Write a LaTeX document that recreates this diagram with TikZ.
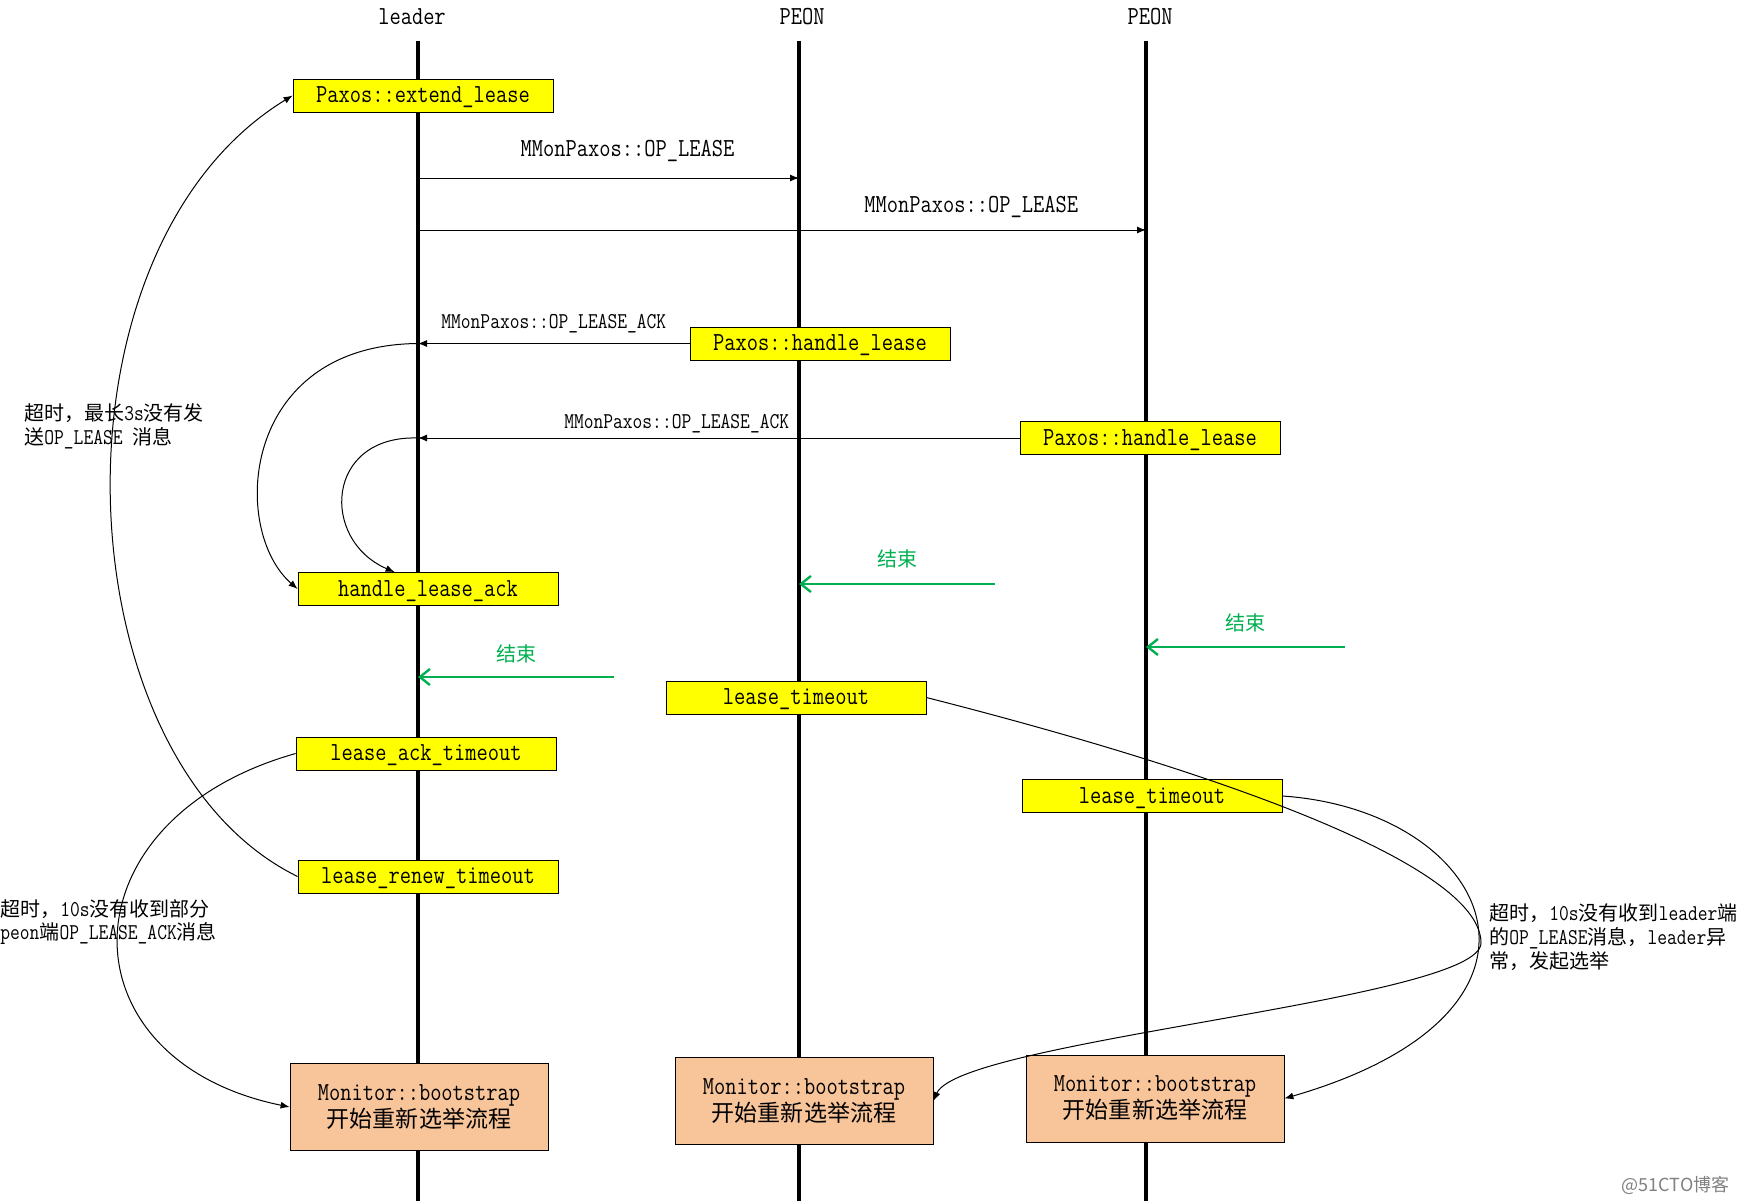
\documentclass[tikz,border=0pt]{standalone}
\usepackage{fontspec}
\setmainfont[FakeStretch=0.84]{Latin Modern Mono}
\newfontfamily\cjk[Scale=0.885]{Noto Sans CJK SC}
\newfontfamily\wmfont{Noto Sans CJK SC}
\usepackage{tikz}
\usetikzlibrary{arrows.meta, positioning, calc}
\definecolor{fnyellow}{RGB}{255,255,0}
\definecolor{bootorange}{RGB}{248,196,154}
\definecolor{donegreen}{RGB}{0,176,80}

\begin{document}
\begin{tikzpicture}[
  x=0.5pt, y=-0.5pt,
  fn/.style={draw, fill=fnyellow, minimum width=130pt, minimum height=16.5pt, inner sep=0pt, text height=7.5pt, text depth=0.5pt, font=\fontsize{13}{14}\selectfont},
  boot/.style={draw, fill=bootorange, minimum width=129pt, minimum height=43.5pt, inner sep=0pt, align=center, font=\fontsize{13}{13.5}\selectfont},
  lbl/.style={inner sep=0pt, font=\fontsize{13}{14}\selectfont},
  acklbl/.style={inner sep=0pt, font=\fontsize{11.3}{12}\selectfont},
  note/.style={align=left, anchor=west, inner sep=0pt, font=\fontsize{11.3}{11.7}\selectfont},
  life/.style={line width=1.7pt},
  msg/.style={-{Latex[length=4.5pt,width=3.5pt]}, line width=0.5pt},
  done/.style={-{Straight Barb[length=5pt,width=8pt]}, draw=donegreen, line width=1.2pt},
  donelbl/.style={inner sep=0pt, text=donegreen, font=\fontsize{11.3}{12}\selectfont\cjk}
]
\useasboundingbox (0,0) rectangle (1740,1204);

\node[lbl] (ldr) at (412,17) {leader};
\node[lbl] (peonA) at (802,17) {PEON};
\node[lbl] (peonB) at (1150,17) {PEON};
\coordinate (ldrTop) at (418,41);  \coordinate (ldrBot) at (418,1201);
\coordinate (pATop) at (799,41);   \coordinate (pABot) at (799,1201);
\coordinate (pBTop) at (1146,41);  \coordinate (pBBot) at (1146,1201);
\draw[life] (ldrTop) -- (ldrBot);
\draw[life] (pATop) -- (pABot);
\draw[life] (pBTop) -- (pBBot);

\node[fn] (extend) at (423,95.5) {Paxos::extend\_lease};
\node[fn] (hlA) at (820,343.5) {Paxos::handle\_lease};
\node[fn] (hlB) at (1150,438) {Paxos::handle\_lease};
\node[fn] (hla) at (428,589) {handle\_lease\_ack};
\node[fn] (ltA) at (796,697.5) {lease\_timeout};
\node[fn] (lat) at (426,753.5) {lease\_ack\_timeout};
\node[fn] (ltB) at (1152,796) {lease\_timeout};
\node[fn] (lrt) at (428,876.5) {lease\_renew\_timeout};
\node[boot] (bsL) at (419,1107) {Monitor::bootstrap\\{\cjk 开始重新选举流程}};
\node[boot] (bsA) at (804,1101) {Monitor::bootstrap\\{\cjk 开始重新选举流程}};
\node[boot] (bsB) at (1155,1098.5) {Monitor::bootstrap\\{\cjk 开始重新选举流程}};

% lease messages
\coordinate (opA) at (418,178);
\coordinate (opB) at (418,230);
\draw[msg] (opA) -- node[pos=0.55, above=8pt, lbl] {MMonPaxos::OP\_LEASE} (opA -| pATop);
\draw[msg] (opB) -- node[pos=0.76, above=6pt, lbl] {MMonPaxos::OP\_LEASE} (opB -| pBTop);

% acks
\coordinate (ackA) at (hlA.west -| ldrTop);
\coordinate (ackB) at (hlB.west -| ldrTop);
\draw[msg] (hlA.west) -- node[midway, above=5pt, acklbl] {MMonPaxos::OP\_LEASE\_ACK} (ackA);
\draw[msg] (hlB.west) -- node[pos=0.57, above=2pt, acklbl] {MMonPaxos::OP\_LEASE\_ACK} (ackB);
\draw[msg] (ackA) .. controls (240,345) and (230,530) .. (hla.west);
\draw[msg] (ackB) .. controls (325,435) and (320,540) .. ($(hla.north west)+(97,0)$);

% end marks
\coordinate (endA) at (995,584);
\coordinate (endB) at (1345,647);
\coordinate (endL) at (614,677);
\draw[done] (endA) -- node[midway, above=7.5pt, donelbl] {结束} (endA -| pATop);
\draw[done] (endB) -- node[midway, above=7pt, donelbl] {结束} (endB -| pBTop);
\draw[done] (endL) -- node[midway, above=6.5pt, donelbl] {结束} (endL -| ldrTop);

% timeouts
\coordinate (turnA) at (1481,943);
\draw[msg] (lrt.west) .. controls (60,760) and (40,250) .. (extend.west);
\draw[msg] (lat.west) .. controls (60,820) and (60,1060) .. (bsL.west);
\draw[msg] (ltA.east) .. controls (1250,780) and (1481,870) .. (turnA)
  .. controls (1481,1000) and (960,1040) .. (bsA.east);
\draw[msg] (ltB.east) .. controls (1490,810) and (1590,1010) .. (bsB.east);

\node[note] (n1) at (24,426.5) {{\cjk 超时，最长}3s{\cjk 没有发}\\{\cjk 送}OP\_LEASE {\cjk 消息}};
\node[note] (n2) at (0,922) {{\cjk 超时，}10s{\cjk 没有收到部分}\\peon{\cjk 端}OP\_LEASE\_ACK{\cjk 消息}};
\node[note, font=\fontsize{11.3}{12}\selectfont] (n3) at (1489,937) {{\cjk 超时，}10s{\cjk 没有收到}leader{\cjk 端}\\{\cjk 的}OP\_LEASE{\cjk 消息，}leader{\cjk 异}\\{\cjk 常，发起选举}};

\node[anchor=east, inner sep=0pt, text=gray, font=\wmfont\fontsize{9}{9}\selectfont] (wm) at (1730,1185) {@51CTO博客};
\end{tikzpicture}
\end{document}
